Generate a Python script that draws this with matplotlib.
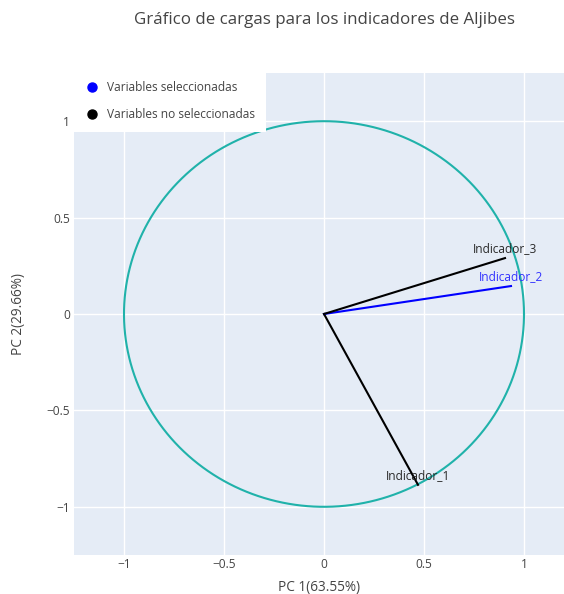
import numpy as np
import matplotlib.pyplot as plt
from matplotlib.lines import Line2D

plt.rcParams['font.family'] = ['Open Sans', 'DejaVu Sans']

# Cargas de cada indicador sobre las dos primeras componentes
indicadores = ["Indicador_1", "Indicador_2", "Indicador_3"]
pc1 = [0.47, 0.935, 0.905]
pc2 = [-0.886, 0.145, 0.29]
seleccionada = [False, True, False]
var_pc1 = 63.55
var_pc2 = 29.66

fig = plt.figure(figsize=(5.64, 5.94), dpi=100)
ax = fig.add_axes([74 / 564, 1 - 555 / 594, 490 / 564, 482 / 594])
ax.set_facecolor("#E5ECF6")

# circulo de correlacion unitario
t = np.linspace(0, 2 * np.pi, 400)
ax.plot(np.cos(t), np.sin(t), color="#20B2AA", lw=1.5, zorder=2)

for nom, x, y, sel in zip(indicadores, pc1, pc2, seleccionada):
    col = "blue" if sel else "black"
    txt = "#3333ff" if sel else "#2a2a2a"
    ax.plot([0, x], [0, y], color=col, lw=1.5, zorder=3)
    ax.annotate(nom, (x, y), xytext=(0, 2), textcoords="offset points",
                ha="center", va="bottom", fontsize=8.6, color=txt, zorder=4)

ax.set_xlim(-1.25, 1.2)
ax.set_ylim(-1.25, 1.25)
ax.set_xticks([-1, -0.5, 0, 0.5, 1])
ax.set_xticklabels(["\u22121", "\u22120.5", "0", "0.5", "1"])
ax.set_yticks([-1, -0.5, 0, 0.5, 1])
ax.set_yticklabels(["\u22121", "\u22120.5", "0", "0.5", "1"])
ax.grid(color="white", lw=1)
ax.set_axisbelow(True)
for s in ax.spines.values():
    s.set_visible(False)
ax.tick_params(axis="x", length=0, labelsize=8.6, labelcolor="#444444", pad=2)
ax.tick_params(axis="y", length=0, labelsize=8.6, labelcolor="#444444", pad=3)

# titulos de ejes colocados a mano
fig.text(319 / 564, 1 - 587 / 594, f"PC 1({var_pc1}%)", ha="center", va="center",
         fontsize=9.8, color="#444444")
fig.text(19 / 564, 1 - 314 / 594, f"PC 2({var_pc2}%)", ha="center", va="center",
         rotation=90, fontsize=9.8, color="#444444")

fig.text(325 / 564, 1 - 20 / 594, "Gráfico de cargas para los indicadores de Aljibes",
         ha="center", va="center", fontsize=12.2, color="#444444")

handles = [
    Line2D([], [], ls="none", marker="o", ms=6.5, color="blue", label="Variables seleccionadas"),
    Line2D([], [], ls="none", marker="o", ms=6.5, color="black", label="Variables no seleccionadas"),
]
leg = ax.legend(handles=handles, loc="upper left", bbox_to_anchor=(0, 1.005),
                frameon=True, fancybox=False, framealpha=1, edgecolor="white",
                fontsize=8.6, labelcolor="#444444", handletextpad=0.7,
                borderaxespad=0, borderpad=0.9, labelspacing=1.15, handlelength=1.2)
leg.get_frame().set_linewidth(0)

fig.savefig("out.png", dpi=100)
